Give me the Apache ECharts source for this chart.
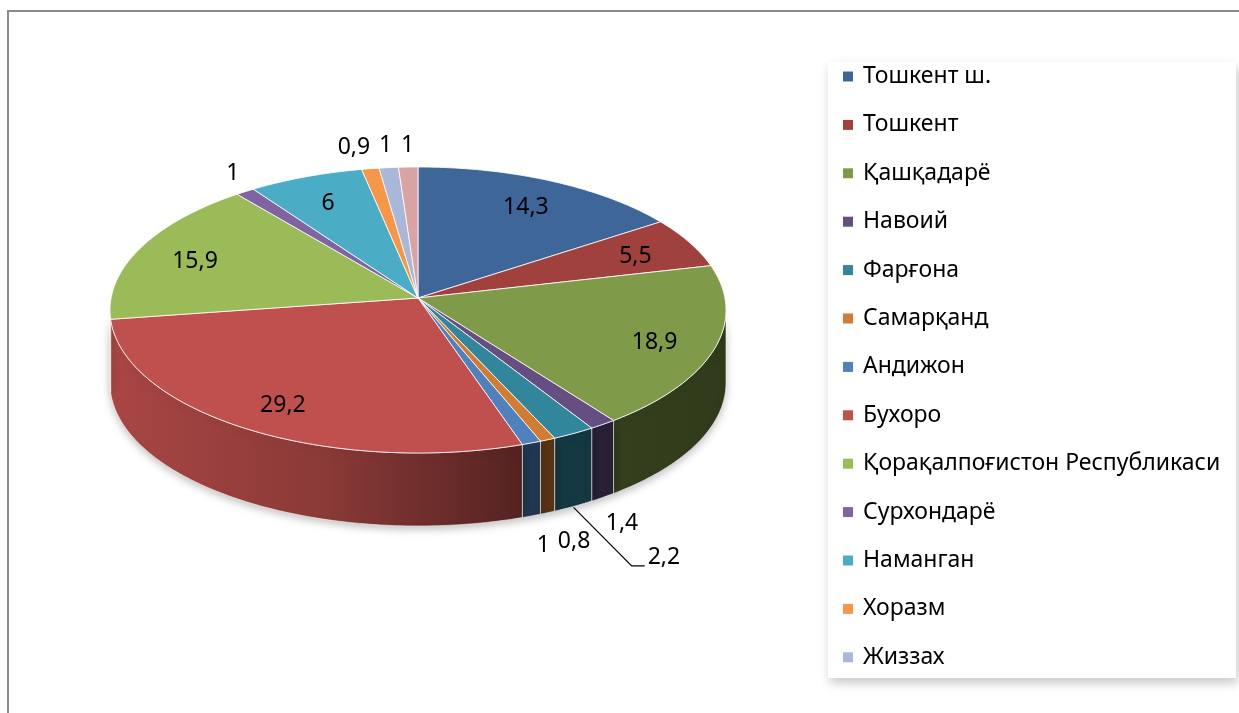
<!DOCTYPE html>
<html>
<head>
<meta charset="utf-8">
<script src="https://cdn.jsdelivr.net/npm/echarts@6/dist/echarts.min.js"></script>
<style>
  html, body { margin: 0; padding: 0; background: #fff; }
  #main { width: 1239px; height: 713px; }
</style>
</head>
<body>
<div id="main"></div>
<script>
  // данные
  var names = ['Тошкент ш.', 'Тошкент', 'Қашқадарё', 'Навоий', 'Фарғона', 'Самарқанд', 'Андижон',
    'Бухоро', 'Қорақалпоғистон Республикаси', 'Сурхондарё', 'Наманган', 'Хоразм', 'Жиззах', 'Сирдарё'];
  var values = [14.3, 5.5, 18.9, 1.4, 2.2, 0.8, 1, 29.2, 15.9, 1, 6, 0.9, 1, 1];
  var legendNames = names.slice(0, 13);   // last one is cut off in the original legend
  var colors = ['#3E6699', '#A0413E', '#7F9A48', '#664E83', '#31869B', '#D27B33', '#4F81BD',
    '#C0504D', '#9BBB59', '#8064A2', '#4BACC6', '#F79646', '#A9B8D8', '#D9A3A2'];

  // pie geometry (pseudo 3d)
  var CX = 418, CY = 310, RX = 308, RY = 143, APEX_Y = 298, DEPTH = 73;
  var FONT = '23px "Noto Sans"';

  var total = values.reduce(function (a, b) { return a + b; }, 0);
  var starts = [], ends = [];
  var acc = 0;
  values.forEach(function (v) {
    starts.push(acc / total * Math.PI * 2);
    acc += v;
    ends.push(acc / total * Math.PI * 2);
  });

  function pt(a, kx, ky, dy) {
    return [CX + RX * kx * Math.sin(a), CY - RY * ky * Math.cos(a) + (dy || 0)];
  }
  function arc(a0, a1, dy) {
    var n = Math.max(2, Math.ceil((a1 - a0) / (Math.PI / 180)));
    var pts = [];
    for (var k = 0; k <= n; k++) {
      pts.push(pt(a0 + (a1 - a0) * k / n, 1, 1, dy));
    }
    return pts;
  }
  function shade(hex, f) {
    var r = parseInt(hex.substr(1, 2), 16), g = parseInt(hex.substr(3, 2), 16), b = parseInt(hex.substr(5, 2), 16);
    return 'rgb(' + Math.round(r * f) + ',' + Math.round(g * f) + ',' + Math.round(b * f) + ')';
  }
  function fmt(v) { return String(v).replace('.', ','); }

  var ctx = document.createElement('canvas').getContext('2d');
  ctx.font = FONT;

  // раскладка подписей
  var labels = values.map(function (v, i) {
    var mid = (starts[i] + ends[i]) / 2;
    var txt = fmt(v);
    var l = {text: txt, w: ctx.measureText(txt).width, mid: mid, leader: false, d: 0};
    if (v >= 3) {
      var p = pt(mid, 0.8, 0.8);
      l.x = p[0]; l.y = p[1]; l.side = 'in';
    } else {
      l.front = Math.cos(mid) < 0;
      l.rim = pt(mid, 1, 1, l.front ? DEPTH : 0);
      l.d = l.front ? 32 : 22;
      l.x = l.rim[0] + Math.sin(mid) * l.d;
      l.y = l.rim[1] - Math.cos(mid) * l.d;
      l.side = 'out';
    }
    return l;
  });

  function hits(a, x, y, placed, lh) {
    return placed.some(function (b) {
      return Math.abs(x - b.x) < (a.w + b.w) / 2 + 8 && Math.abs(y - b.y) < lh;
    });
  }
  var placed = [], deferred = [];
  for (var i = labels.length - 1; i >= 0; i--) {
    var l = labels[i];
    if (l.side !== 'out') continue;
    var done = false;
    for (var s = 0; s <= 15 && !done; s++) {
      var cands = s === 0 ? [0] : [s, -s];
      for (var c = 0; c < cands.length; c++) {
        if (!hits(l, l.x + cands[c], l.y, placed, 26)) { l.x += cands[c]; done = true; break; }
      }
    }
    if (done) placed.push(l); else deferred.push(l);
  }
  // те, что не влезли, отодвигаем наружу с выноской
  deferred.forEach(function (l) {
    var dx = Math.sin(l.mid) * 3, dy = -Math.cos(l.mid);
    var n = Math.sqrt(dx * dx + dy * dy);
    dx /= n; dy /= n;
    do {
      l.d += 2;
      l.x = l.rim[0] + dx * l.d;
      l.y = l.rim[1] + dy * l.d;
    } while (hits(l, l.x, l.y, placed, 34) && l.d < 200);
    l.leader = true;
    placed.push(l);
  });

  var wallGrad = function (c) {
    return new echarts.graphic.LinearGradient(CX - RX, 0, CX + RX, 0, [
      {offset: 0, color: shade(c, 0.88)},
      {offset: 0.35, color: shade(c, 0.72)},
      {offset: 0.68, color: shade(c, 0.43)},
      {offset: 1, color: shade(c, 0.38)}
    ], true);
  };

  function renderSlice(params, api) {
    var i = params.seriesIndex;
    var a0 = starts[i], a1 = ends[i];
    var children = [];

    // боковая стенка, видна только передняя половина
    var s = Math.max(a0, Math.PI / 2), e = Math.min(a1, Math.PI * 1.5);
    if (e > s) {
      var topArc = arc(s, e, 0);
      var botArc = arc(s, e, DEPTH).reverse();
      children.push({
        type: 'polygon',
        z2: 0,
        shape: {points: topArc.concat(botArc)},
        style: {
          fill: wallGrad(colors[i]),
          stroke: 'rgba(255,255,255,0.55)',
          lineWidth: 1,
          shadowBlur: 8,
          shadowColor: 'rgba(0,0,0,0.25)',
          shadowOffsetY: 3
        }
      });
    }

    // верх
    children.push({
      type: 'polygon',
      z2: 1,
      shape: {points: [[CX, APEX_Y]].concat(arc(a0, a1, 0))},
      style: {fill: colors[i], stroke: 'rgba(255,255,255,0.8)', lineWidth: 1}
    });

    var l = labels[i];
    if (l.leader) {
      var b = pt(l.mid, 1, 1, DEPTH + 1);
      children.push({
        type: 'polyline',
        z2: 5,
        shape: {points: [b, [l.x - l.w / 2 - 16, l.y + 8], [l.x - l.w / 2 - 3, l.y + 8]]},
        style: {stroke: '#000', lineWidth: 1.2, fill: null}
      });
    }
    children.push({
      type: 'text',
      z2: 10,
      style: {
        text: l.text, x: l.x, y: l.y,
        align: 'center', verticalAlign: 'middle',
        font: FONT, fill: '#000'
      }
    });
    return {type: 'group', children: children};
  }

  var series = names.map(function (n, i) {
    return {
      name: n,
      type: 'custom',
      coordinateSystem: 'none',
      renderItem: renderSlice,
      itemStyle: {color: colors[i]},
      data: [[values[i]]]
    };
  });

  var myChart = echarts.init(document.getElementById('main'));
  myChart.setOption({
    animation: false,
    color: colors,
    graphic: [
      { // рамка
        type: 'polyline',
        z: 0,
        shape: {points: [[8, 713], [8, 11], [1239, 11]]},
        style: {stroke: '#8a8a8a', lineWidth: 2, fill: null}
      },
      { // фон легенды
        type: 'rect',
        z: 0,
        shape: {x: 828, y: 62, width: 408, height: 616},
        style: {
          fill: '#fff',
          shadowBlur: 10,
          shadowColor: 'rgba(0,0,0,0.22)',
          shadowOffsetX: 2,
          shadowOffsetY: 5
        }
      }
    ],
    legend: {
      orient: 'vertical',
      left: 843,
      top: 65,
      padding: 0,
      icon: 'rect',
      itemWidth: 10,
      itemHeight: 10,
      itemGap: 25.4,
      selectedMode: false,
      textStyle: {
        fontFamily: 'Noto Sans',
        fontSize: 23,
        lineHeight: 22,
        color: '#000',
        padding: [0, 0, 0, 5]
      },
      data: legendNames
    },
    series: series
  });
</script>
</body>
</html>
